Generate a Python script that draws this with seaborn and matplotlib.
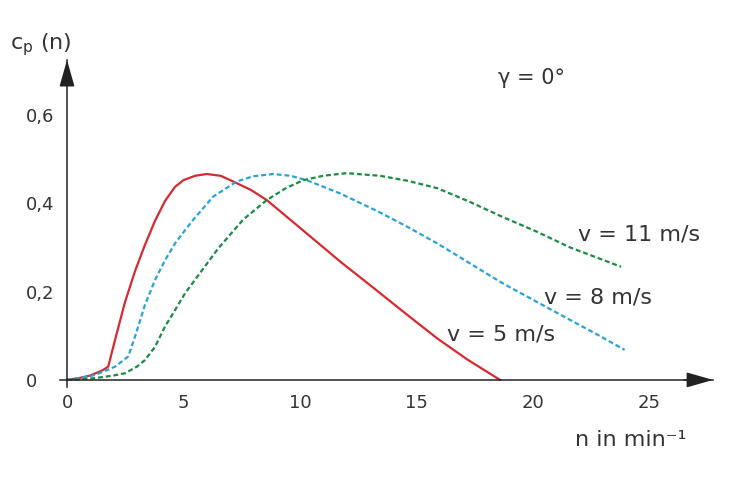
import pandas as pd
import matplotlib.pyplot as plt
import seaborn as sns

# --- DATA: power coefficient c_p over rotor speed n (gamma = 0 deg) ---
n_5 = [0, 0.5, 1.0, 1.5, 1.77, 2.06, 2.49, 2.92, 3.35, 3.78, 4.21, 4.64, 5.0, 5.5, 6.0,
       6.6, 7.14, 7.9, 8.58, 9.58, 10.6, 11.8, 13.1, 14.5, 15.9, 17.2, 18.6]
cp_5 = [0, 0.004, 0.01, 0.021, 0.030, 0.090, 0.176, 0.246, 0.306, 0.360, 0.405, 0.437,
        0.452, 0.462, 0.466, 0.462, 0.449, 0.43, 0.407, 0.363, 0.318, 0.265, 0.211,
        0.152, 0.094, 0.046, 0.0]

n_8 = [0, 0.5, 1.2, 2.06, 2.63, 2.92, 3.35, 3.78, 4.21, 4.64, 5.07, 5.43, 6.28, 7.29,
       8.0, 8.86, 9.6, 10.3, 11.73, 13.37, 14.6, 15.9, 17.3, 18.7, 20.2, 21.6, 22.8, 23.95]
cp_8 = [0, 0.004, 0.011, 0.030, 0.053, 0.098, 0.170, 0.226, 0.271, 0.309, 0.339, 0.363,
        0.415, 0.449, 0.461, 0.466, 0.462, 0.452, 0.422, 0.381, 0.347, 0.309, 0.264,
        0.219, 0.176, 0.136, 0.102, 0.068]

n_11 = [0, 0.5, 1.2, 2.0, 2.49, 3.0, 3.35, 3.78, 4.21, 4.64, 5.07, 5.7, 6.5, 7.57, 8.58,
        9.4, 10.15, 11.0, 12.0, 13.44, 14.6, 15.9, 17.3, 18.7, 20.2, 21.6, 22.7, 23.8]
cp_11 = [0, 0.001, 0.004, 0.01, 0.015, 0.03, 0.045, 0.075, 0.121, 0.158, 0.196, 0.241,
         0.298, 0.363, 0.407, 0.434, 0.452, 0.462, 0.468, 0.462, 0.451, 0.434, 0.403,
         0.369, 0.335, 0.30, 0.278, 0.256]

speeds = ['v = 5 m/s', 'v = 8 m/s', 'v = 11 m/s']
colors = ['#d42a30', '#29a3d6', '#1a8a44']
x_ticks = [0, 5, 10, 15, 20, 25]
y_ticks = [0, 0.2, 0.4, 0.6]

df = pd.concat([
    pd.DataFrame({'n': n_5, 'cp': cp_5, 'v': speeds[0]}),
    pd.DataFrame({'n': n_8, 'cp': cp_8, 'v': speeds[1]}),
    pd.DataFrame({'n': n_11, 'cp': cp_11, 'v': speeds[2]}),
])

sns.set_style("white")
plt.rcParams['font.family'] = ['DejaVu Sans']
txt = '#333333'

fig = plt.figure(figsize=(7.55, 4.88), dpi=100)
ax = fig.add_axes([0.0795, 0.207, 0.865, 0.670])

sns.lineplot(data=df, x='n', y='cp', hue='v', style='v', hue_order=speeds, style_order=speeds,
             palette=dict(zip(speeds, colors)),
             dashes={speeds[0]: '', speeds[1]: (2.2, 1.3), speeds[2]: (2.2, 1.3)},
             sort=False, estimator=None, legend=False, lw=1.6, ax=ax)

# --- AXES: arrows crossing at the origin ---
ax.set_xlim(-0.3, 27.75)
ax.set_ylim(-0.016, 0.724)
for side in ['top', 'right']:
    ax.spines[side].set_visible(False)
for side in ['left', 'bottom']:
    ax.spines[side].set_position(('data', 0))
    ax.spines[side].set_color('#222222')
    ax.spines[side].set_linewidth(1.1)

head = dict(arrowstyle='-|>,head_length=1.65,head_width=0.47', mutation_scale=10,
            color='#222222', lw=1.1, shrinkA=0, shrinkB=0)
ax.annotate('', xy=(27.75, 0), xytext=(26.5, 0), arrowprops=head, annotation_clip=False)
ax.annotate('', xy=(0, 0.724), xytext=(0, 0.68), arrowprops=head, annotation_clip=False)

ax.set_xticks(x_ticks)
ax.set_yticks(y_ticks)
ax.set_xticklabels([str(t) for t in x_ticks])
ax.set_yticklabels([('%g' % t).replace('.', ',') for t in y_ticks])
ax.tick_params(axis='both', direction='inout', length=10, width=0.8, color='#333333',
               labelsize=13, labelcolor=txt)
ax.tick_params(axis='x', pad=5)
ax.tick_params(axis='y', pad=24.5)
for lab in ax.get_yticklabels():
    lab.set_horizontalalignment('left')
ax.set_xlabel('')
ax.set_ylabel('')

# --- LABELS ---
label_pos = {'v = 5 m/s': (16.3, 0.102), 'v = 8 m/s': (20.5, 0.186), 'v = 11 m/s': (21.95, 0.328)}
for s in speeds:
    ax.text(*label_pos[s], s, fontsize=16, color=txt, ha='left', va='center')
ax.text(18.5, 0.683, '\u03b3 = 0\u00b0', fontsize=15, color=txt, ha='left', va='center')

fig.text(0.013, 0.908, r'c$_\mathregular{p}$ (n)', fontsize=16, color=txt, ha='left', va='center')
fig.text(0.762, 0.098, 'n in min\u207b\u00b9', fontsize=16, color=txt, ha='left', va='center')

fig.savefig('out.png', dpi=100)
